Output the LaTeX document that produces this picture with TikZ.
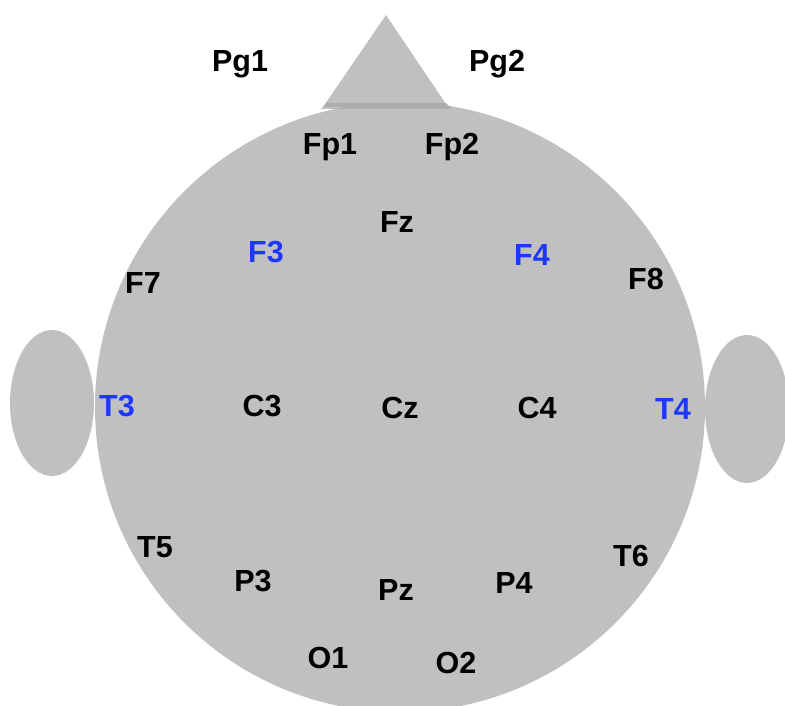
\documentclass[tikz,border=0pt]{standalone}
\usepackage{fontspec}
\setmainfont{Liberation Sans}
\definecolor{headgray}{RGB}{192,192,192}
\definecolor{bandgray}{RGB}{165,165,165}
\definecolor{eblue}{RGB}{30,55,255}
\tikzset{
  lbl/.style={anchor=base, inner sep=0pt, font=\fontsize{30.5}{30.5}\selectfont\bfseries, text=black},
  blbl/.style={lbl, text=eblue},
  part/.style={fill=headgray, draw=none}
}
\begin{document}
\begin{tikzpicture}[x=1pt,y=-1pt]
\useasboundingbox (0,0) rectangle (785,706);
\clip (0,0) rectangle (785,706);
% ears
\fill[part] (52,403) ellipse [x radius=42, y radius=73];
\fill[part] (747,409) ellipse [x radius=42, y radius=74];
% head
\fill[part] (400,407) circle [radius=305];
% nose
\fill[part] (386,15) -- (448,107) -- (323,107) -- cycle;
\fill[bandgray, opacity=0.7] (326,103) -- (446,103) -- (452,109) -- (321,109) -- cycle;
% labels
\node[lbl] (Pg1) at (240,72) {Pg1};
\node[lbl] (Pg2) at (497,72) {Pg2};
\node[lbl] (Fp1) at (330,155) {Fp1};
\node[lbl] (Fp2) at (452,155) {Fp2};
\node[lbl] (Fz) at (397,233) {Fz};
\node[blbl] (F3) at (266,262) {F3};
\node[blbl] (F4) at (532,265) {F4};
\node[lbl] (F7) at (143,293) {F7};
\node[lbl] (F8) at (646,289) {F8};
\node[blbl] (T3) at (117,416) {T3};
\node[lbl] (C3) at (262,416) {C3};
\node[lbl] (Cz) at (400,418) {Cz};
\node[lbl] (C4) at (537,418) {C4};
\node[blbl] (T4) at (673,419) {T4};
\node[lbl] (T5) at (155,557) {T5};
\node[lbl] (P3) at (253,591) {P3};
\node[lbl] (Pz) at (396,600) {Pz};
\node[lbl] (P4) at (514,593) {P4};
\node[lbl] (T6) at (631,566) {T6};
\node[lbl] (O1) at (328,668) {O1};
\node[lbl] (O2) at (456,673) {O2};
\end{tikzpicture}
\end{document}
